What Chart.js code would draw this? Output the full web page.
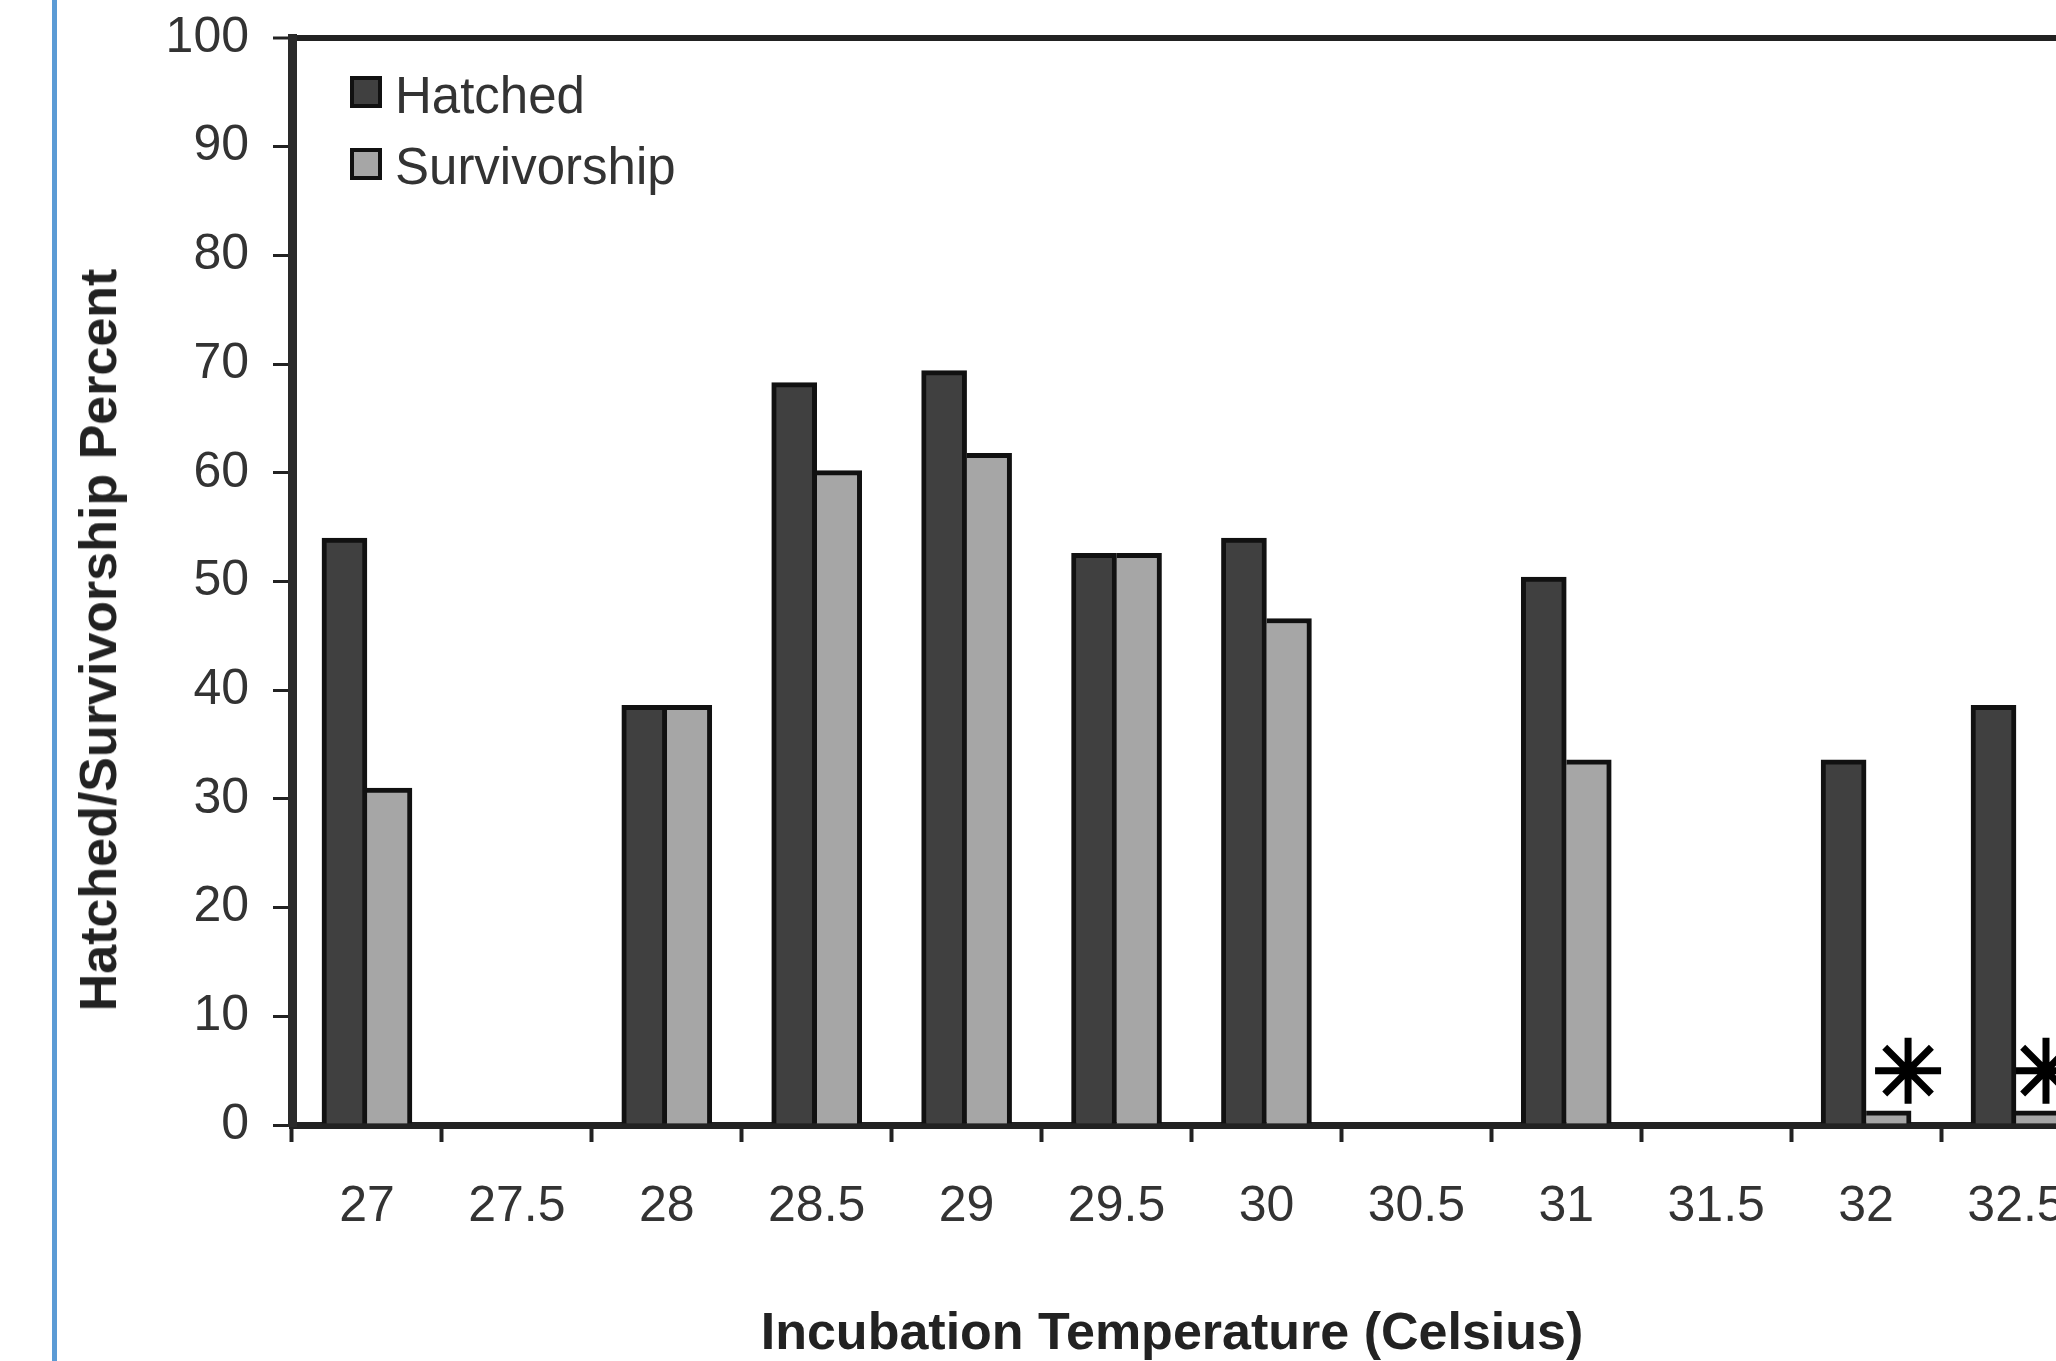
<!DOCTYPE html>
<html>
<head>
<meta charset="utf-8">
<script src="https://cdn.jsdelivr.net/npm/chart.js@4.4.1/dist/chart.umd.min.js"></script>
<style>
  html, body { margin: 0; padding: 0; background: #fff; }
  body { width: 2056px; height: 1361px; overflow: hidden; position: relative; font-family: "Liberation Sans", Arial, sans-serif; }
  #frame { position: absolute; left: 52px; top: 0; width: 5px; height: 1361px; background: #5b9bd5; }
  #wrap { position: absolute; left: 0; top: 0; width: 2100px; height: 1361px; }
  #wrap canvas { display: block; }
  .key { position: absolute; left: 350px; width: 24px; height: 24px; border: 4px solid #111; }
  .keyText { position: absolute; left: 395px; font-size: 51px; line-height: 50px; color: #333; white-space: nowrap; }
  #ytitle { position: absolute; left: 98px; top: 640px; transform: translate(-50%, -50%) rotate(-90deg);
            font-size: 52px; font-weight: bold; color: #222; white-space: nowrap; }
  #xtitle { position: absolute; left: 1172px; top: 1331px; transform: translate(-50%, -50%);
            font-size: 52px; font-weight: bold; color: #222; white-space: nowrap; }
</style>
</head>
<body>
<div id="frame"></div>
<div id="wrap"><canvas id="chart" width="2100" height="1361"></canvas></div>
<div class="key" style="top:76px;background:#404040"></div>
<div class="keyText" style="top:71px">Hatched</div>
<div class="key" style="top:148px;background:#a6a6a6"></div>
<div class="keyText" style="top:142px">Survivorship</div>
<div id="ytitle">Hatched/Survivorship Percent</div>
<div id="xtitle">Incubation Temperature (Celsius)</div>
<script>
const temps = ['27', '27.5', '28', '28.5', '29', '29.5', '30', '30.5', '31', '31.5', '32', '32.5'];
const hatched = [54, null, 38.6, 68.3, 69.4, 52.6, 54, null, 50.4, null, 33.6, 38.6];
const survivorship = [31, null, 38.6, 60.2, 61.8, 52.6, 46.6, null, 33.6, null, 1.3, 1.3];
// star markers, placed just right of the survivorship bars at 32 and 32.5
const starX = [32.14, 32.6];
const starValues = [5, 5];
const yTicks = [0, 10, 20, 30, 40, 50, 60, 70, 80, 90, 100];

const starPoints = starX.map((x, i) => ({ x: x, y: starValues[i] }));
const font = '"Liberation Sans", Arial, sans-serif';

new Chart(document.getElementById('chart'), {
  type: 'bar',
  data: {
    labels: temps,
    datasets: [
      {
        label: 'Hatched', data: hatched, backgroundColor: '#404040',
        borderColor: '#111', borderWidth: 5, barThickness: 45
      },
      {
        label: 'Survivorship', data: survivorship, backgroundColor: '#a6a6a6',
        borderColor: '#111', borderWidth: { top: 5, right: 5, left: 0, bottom: 0 }, barThickness: 45
      },
      {
        type: 'line', label: 'star', data: starPoints, showLine: false,
        pointStyle: 'star', pointRadius: 33, pointBorderWidth: 7,
        pointBorderColor: '#000', pointBackgroundColor: '#000'
      }
    ]
  },
  options: {
    responsive: false,
    animation: false,
    layout: { autoPadding: false, padding: { left: 0, top: 38, right: 8, bottom: 0 } },
    plugins: { legend: { display: false }, tooltip: { enabled: false } },
    scales: {
      x: {
        type: 'linear',
        min: 26.75, max: 32.75,
        offset: false,
        z: 1,
        afterBuildTicks: s => { s.ticks = temps.map(t => ({ value: +t })); },
        grid: { offset: true, drawOnChartArea: false, tickLength: 17, tickColor: '#222', tickWidth: 4 },
        border: { display: true, color: '#222', width: 7 },
        ticks: {
          font: { family: font, size: 50 }, color: '#333', padding: 35, maxRotation: 0, autoSkip: false,
          callback: (v, i) => temps[i]
        },
        afterFit: s => { s.height = 236; }
      },
      y: {
        min: 0, max: 100,
        afterBuildTicks: s => { s.ticks = yTicks.map(v => ({ value: v })); },
        grid: {
          color: c => c.tick && c.tick.value === 100 ? '#222' : 'rgba(0,0,0,0)',
          lineWidth: c => c.tick && c.tick.value === 100 ? 6 : 3,
          tickLength: 19, tickColor: '#222', tickWidth: 3
        },
        border: { display: true, color: '#2a2a2a', width: 9 },
        ticks: { font: { family: font, size: 50, lineHeight: 0.5 }, color: '#333', padding: 24 },
        afterFit: s => { s.width = 292; }
      }
    }
  }
});
</script>
</body>
</html>
